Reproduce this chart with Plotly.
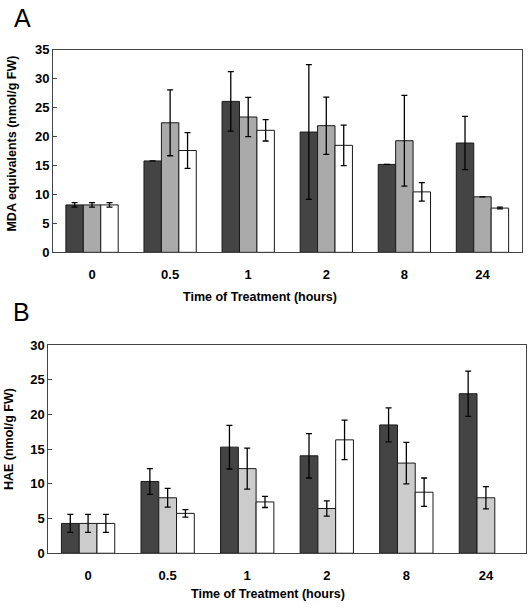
import plotly.graph_objects as go

categories = ["0", "0.5", "1", "2", "8", "24"]

# Panel A: MDA equivalents (nmol/g FW)
mda_s1 = [8.2, 15.8, 26.1, 20.8, 15.2, 18.9]
mda_s1_err = [0.4, None, 5.15, 11.65, None, 4.6]
mda_s2 = [8.2, 22.4, 23.4, 21.9, 19.3, 9.6]
mda_s2_err = [0.4, 5.7, 3.4, 4.95, 7.85, None]
mda_s3 = [8.2, 17.6, 21.1, 18.5, 10.45, 7.65]
mda_s3_err = [0.4, 3.1, 1.85, 3.5, 1.6, 0.15]

# Panel B: HAE (nmol/g FW)
hae_s1 = [4.3, 10.35, 15.3, 14.05, 18.5, 23.0]
hae_s1_err = [1.3, 1.85, 3.15, 3.2, 2.45, 3.25]
hae_s2 = [4.3, 8.0, 12.2, 6.45, 13.0, 8.0]
hae_s2_err = [1.3, 1.35, 2.95, 1.1, 3.0, 1.6]
hae_s3 = [4.3, 5.75, 7.4, 16.35, 8.8, None]
hae_s3_err = [1.3, 0.55, 0.8, 2.85, 2.05, None]

FONT = "Liberation Sans, Arial, sans-serif"
AXC = "#444444"

fig = go.Figure()

def add_bar(xa, ya, y, err, color):
    fig.add_trace(go.Bar(
        x=categories, y=y, xaxis=xa, yaxis=ya,
        marker=dict(color=color, line=dict(color="#1a1a1a", width=1)),
        error_y=dict(type="data", array=err, color="black", thickness=1.3, width=3),
        showlegend=False,
    ))

add_bar("x", "y", mda_s1, mda_s1_err, "#444444")
add_bar("x", "y", mda_s2, mda_s2_err, "#aaaaaa")
add_bar("x", "y", mda_s3, mda_s3_err, "#ffffff")
add_bar("x2", "y2", hae_s1, hae_s1_err, "#444444")
add_bar("x2", "y2", hae_s2, hae_s2_err, "#cccccc")
add_bar("x2", "y2", hae_s3, hae_s3_err, "#ffffff")

W, H = 528, 611

def px_x(p):
    return p / W

def px_y(p):
    return 1 - p / H

tickfont = dict(family=FONT, size=13, color="black", weight="bold")

common_x = dict(type="category", showline=True, linecolor=AXC, linewidth=1, mirror=True,
                ticks="", tickfont=tickfont, ticklabelstandoff=10, showgrid=False, zeroline=False)
common_y = dict(showline=True, linecolor=AXC, linewidth=1, mirror=True, ticks="inside",
                ticklen=4, tickcolor=AXC, tickfont=tickfont, showgrid=False, zeroline=False,
                dtick=5)

fig.update_layout(
    width=W, height=H,
    margin=dict(l=0, r=0, t=0, b=0),
    paper_bgcolor="white", plot_bgcolor="white",
    barmode="group", bargap=0.33, bargroupgap=0,
    xaxis=dict(domain=[px_x(53), px_x(521.5)], anchor="y", **common_x),
    yaxis=dict(domain=[px_y(251.5), px_y(44)], anchor="x", range=[0, 35], **common_y),
    xaxis2=dict(domain=[px_x(48.3), px_x(525.7)], anchor="y2", **common_x),
    yaxis2=dict(domain=[px_y(560), px_y(346.7)], anchor="x2", range=[0, 30], **common_y),
)

tfont = dict(family=FONT, size=12.5, color="black", weight="bold")
ann = [
    dict(text="Time of Treatment (hours)", x=px_x(260), y=px_y(297), font=tfont),
    dict(text="Time of Treatment (hours)", x=px_x(268), y=px_y(602), font=tfont),
    dict(text="MDA equivalents (nmol/g FW)", x=px_x(12), y=px_y(140), font=tfont, textangle=-90),
    dict(text="HAE (nmol/g FW)", x=px_x(9), y=px_y(443), font=tfont, textangle=-90),
    dict(text="A", x=px_x(22), y=px_y(11), font=dict(family=FONT, size=25, color="black")),
    dict(text="B", x=px_x(21), y=px_y(313), font=dict(family=FONT, size=25, color="black")),
]
for a in ann:
    fig.add_annotation(xref="paper", yref="paper", xanchor="center", yanchor="middle",
                       showarrow=False, **a)

fig.write_html(
    "out.html",
    config={"displayModeBar": False},
    post_script="document.body.style.margin='0';document.body.style.overflow='hidden';",
)
